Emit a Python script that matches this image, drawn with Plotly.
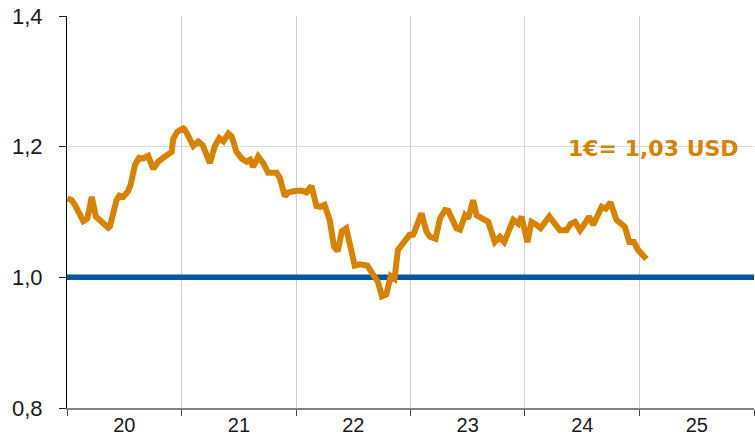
import plotly.graph_objects as go

dates = [
    "2020-01-02", "2020-01-16", "2020-01-26", "2020-02-22", "2020-03-06", "2020-03-20",
    "2020-04-02", "2020-04-21", "2020-05-12", "2020-05-17", "2020-06-07", "2020-06-16",
    "2020-06-28", "2020-07-14", "2020-07-22", "2020-08-05", "2020-08-18", "2020-08-31",
    "2020-09-16", "2020-10-02", "2020-10-18", "2020-11-03", "2020-11-22", "2020-11-30",
    "2020-12-05", "2020-12-18", "2021-01-06", "2021-01-11", "2021-01-22", "2021-02-07",
    "2021-02-23", "2021-03-09", "2021-04-01", "2021-04-17", "2021-05-01", "2021-05-14",
    "2021-05-30", "2021-06-09", "2021-06-25", "2021-07-11", "2021-07-27", "2021-08-07",
    "2021-08-17", "2021-09-02", "2021-09-18", "2021-10-04", "2021-10-31", "2021-11-10",
    "2021-11-26", "2021-12-07", "2021-12-28", "2022-01-18", "2022-02-03", "2022-02-19",
    "2022-03-07", "2022-03-20", "2022-04-02", "2022-04-18", "2022-05-02", "2022-05-14",
    "2022-05-27", "2022-06-10", "2022-07-07", "2022-07-23", "2022-08-16", "2022-08-29",
    "2022-09-19", "2022-10-02", "2022-10-16", "2022-10-30", "2022-11-11", "2022-11-22",
    "2022-12-13", "2022-12-29", "2023-01-09", "2023-01-14", "2023-02-05", "2023-02-21",
    "2023-03-04", "2023-03-22", "2023-04-05", "2023-04-21", "2023-05-01", "2023-05-17",
    "2023-05-28", "2023-06-08", "2023-06-24", "2023-07-04", "2023-07-20", "2023-07-31",
    "2023-08-21", "2023-09-06", "2023-09-27", "2023-10-13", "2023-10-27", "2023-11-09",
    "2023-11-25", "2023-12-11", "2023-12-21", "2024-01-09", "2024-01-22", "2024-02-02",
    "2024-02-20", "2024-03-19", "2024-04-06", "2024-04-22", "2024-05-13", "2024-05-26",
    "2024-06-09", "2024-06-25", "2024-07-07", "2024-07-24", "2024-08-06", "2024-08-19",
    "2024-09-02", "2024-09-15", "2024-09-30", "2024-10-19", "2024-11-04", "2024-11-15",
    "2024-11-29", "2024-12-14", "2024-12-27", "2025-01-12", "2025-01-23",
]
eurusd = [
    1.121, 1.118, 1.111, 1.086, 1.090, 1.123,
    1.093, 1.085, 1.076, 1.078, 1.118, 1.125,
    1.123, 1.132, 1.142, 1.172, 1.183, 1.182,
    1.186, 1.166, 1.177, 1.183, 1.189, 1.192,
    1.212, 1.223, 1.228, 1.226, 1.216, 1.201,
    1.208, 1.202, 1.175, 1.201, 1.213, 1.208,
    1.220, 1.216, 1.192, 1.182, 1.177, 1.180,
    1.169, 1.185, 1.175, 1.160, 1.160, 1.152,
    1.124, 1.130, 1.132, 1.133, 1.130, 1.140,
    1.109, 1.108, 1.111, 1.088, 1.047, 1.040,
    1.070, 1.075, 1.018, 1.020, 1.018, 1.008,
    0.993, 0.971, 0.974, 1.002, 0.998, 1.042,
    1.057, 1.065, 1.065, 1.070, 1.098, 1.070,
    1.062, 1.059, 1.090, 1.103, 1.102, 1.088,
    1.075, 1.073, 1.095, 1.090, 1.118, 1.095,
    1.090, 1.085, 1.054, 1.062, 1.054, 1.067,
    1.088, 1.082, 1.093, 1.054, 1.085, 1.082,
    1.075, 1.093, 1.080, 1.072, 1.072, 1.082,
    1.085, 1.072, 1.080, 1.093, 1.080, 1.095,
    1.108, 1.105, 1.115, 1.088, 1.080, 1.077,
    1.054, 1.054, 1.042, 1.032, 1.028,
]
parity_x = ["2020-01-01", "2026-01-01"]
parity_y = [1.0, 1.0]
y_ticks = [0.8, 1.0, 1.2, 1.4]
y_tick_text = ["0,8", "1,0", "1,2", "1,4"]
label_text = "1€= 1,03 USD"

ORANGE = "#D98200"
BLUE = "#0056A6"

fig = go.Figure()
fig.add_trace(go.Scatter(x=parity_x, y=parity_y, mode="lines",
                         line=dict(color=BLUE, width=5.5), hoverinfo="skip"))
fig.add_trace(go.Scatter(x=dates, y=eurusd, mode="lines",
                         line=dict(color=ORANGE, width=6, shape="linear")))

fig.add_annotation(x="2025-02-13", y=1.197, xref="x", yref="y",
                   text="<b>" + label_text + "</b>",
                   showarrow=False, font=dict(family="DejaVu Sans", size=22, color=ORANGE),
                   xanchor="center", yanchor="middle")

fig.update_layout(
    width=755, height=441,
    margin=dict(l=67, r=1, t=16, b=33, autoexpand=False),
    paper_bgcolor="white", plot_bgcolor="white",
    showlegend=False,
    font=dict(family="Liberation Sans", size=20, color="#1a1a1a"),
)
fig.update_xaxes(
    type="date", range=["2020-01-01", "2026-01-01"],
    dtick="M12", tick0="2020-01-01", tickformat="%y", ticklabelmode="period",
    showgrid=True, gridcolor="#cfcfcf", gridwidth=1,
    ticks="outside", ticklen=6, tickcolor="#444444", tickwidth=1,
    showline=True, linecolor="#808080", linewidth=2,
    tickfont=dict(size=20), ticklabelstandoff=-8, zeroline=False, automargin=False,
)
fig.update_yaxes(
    range=[0.8, 1.4], tickvals=y_ticks, ticktext=y_tick_text,
    showgrid=True, gridcolor="#d9d9d9", gridwidth=1,
    ticks="outside", ticklen=7, tickcolor="#222222", tickwidth=1,
    showline=True, linecolor="#000000", linewidth=1,
    tickfont=dict(size=22), ticklabelstandoff=12, zeroline=False, automargin=False,
)

fig.write_html("out.html", config={"displayModeBar": False},
               post_script="document.body.style.margin='0';")
